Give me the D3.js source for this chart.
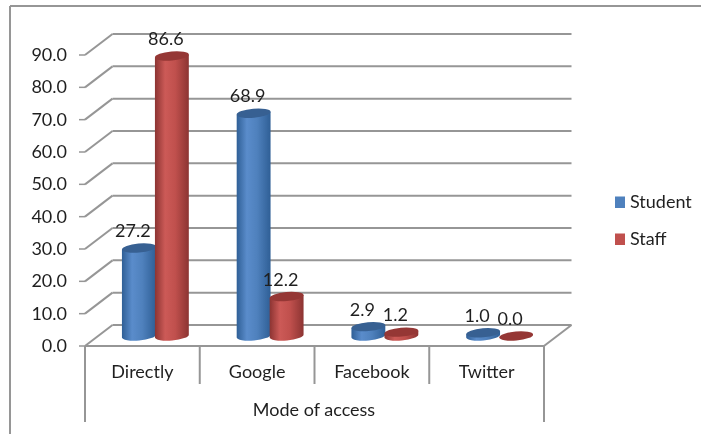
<!DOCTYPE html>
<html><head><meta charset="utf-8">
<script src="https://cdn.jsdelivr.net/npm/d3@7/dist/d3.min.js"></script>
<style>
html,body{margin:0;padding:0;background:#fff;width:701px;height:434px;overflow:hidden}
svg{display:block;filter:blur(0.35px)}
text{font-family:Lato,"Open Sans",sans-serif;fill:#1f1f1f}
</style></head><body><script>
const categories=["Directly","Google","Facebook","Twitter"];
const seriesNames=["Student","Staff"];
const student=[27.2,68.9,2.9,1.0];
const staff=[86.6,12.2,1.2,0.0];
const ticks=[0,10,20,30,40,50,60,70,80,90];
const colors={Student:["#2f5f96","#4f81bd","#5a8ccb","#376092"],Staff:["#8c3432","#c0504d","#cc5a57","#953735"]};

const W=701,H=434,dx=27.5,dy=-21,fs=18;
const svg=d3.select("body").append("svg").attr("width",W).attr("height",H);
const defs=svg.append("defs");
seriesNames.forEach(n=>{
 const g=defs.append("linearGradient").attr("id","g"+n);
 [[0,colors[n][0]],[.3,colors[n][2]],[.6,colors[n][1]],[1,colors[n][0]]].forEach(([o,c])=>g.append("stop").attr("offset",o).attr("stop-color",c));
});
const x=d3.scaleBand().domain(categories).range([85,544]);
const y=d3.scaleLinear().domain([0,90]).range([346,55]);
const grid="#969696";
const line=(a,b,c,d,w=2)=>svg.append("line").attr("x1",a).attr("y1",b).attr("x2",c).attr("y2",d).attr("stroke",grid).attr("stroke-width",w);
const label=(t,a,b,anchor)=>svg.append("text").attr("x",a).attr("y",b).attr("text-anchor",anchor).attr("font-size",fs).text(t);

// outer frame
line(10,6,W,6,2);line(10,6,10,H,2);
// back wall gridlines and side wall
ticks.forEach(t=>{
 line(x.range()[0]+dx,y(t)+dy,x.range()[1]+dx,y(t)+dy,2);
 line(x.range()[0],y(t),x.range()[0]+dx,y(t)+dy,2);
 line(x.range()[0]-6,y(t),x.range()[0],y(t),1.5);
 label(d3.format(".1f")(t),67,y(t)+6,"end");
});
line(x.range()[1],y(0),x.range()[1]+dx,y(0)+dy,2);
line(x.range()[0],y(0),x.range()[1],y(0),2);
// category separators
line(85,346,85,422,2);line(544,346,544,422,2);
categories.slice(1).forEach(c=>line(x(c),346,x(c),384,2));
categories.forEach(c=>label(c,x(c)+x.bandwidth()/2,378,"middle"));
label("Mode of access",314,416,"middle");

// cylinders
const rx=17,ry=4.5,rot=-5;
const base=-10,off=13;
const rad=rot*Math.PI/180, ex=rx*Math.cos(rad), ey=rx*Math.sin(rad);
function cyl(n,vals,shift){
 const c=colors[n];
 vals.forEach((v,i)=>{
  const cx=x(categories[i])+x.bandwidth()/2+off+shift;
  const yb=y(0)+base, yt=y(v)+base;
  const g=svg.append("g");
  if(v>0){
   g.append("path")
    .attr("d",`M${cx-ex},${yt-ey} L${cx-ex},${yb-ey} A${rx},${ry} ${rot} 0 0 ${cx+ex},${yb+ey} L${cx+ex},${yt+ey} Z`)
    .attr("fill",`url(#g${n})`);
  }
  g.append("ellipse").attr("cx",cx).attr("cy",yt).attr("rx",rx).attr("ry",ry)
   .attr("transform",`rotate(${rot} ${cx} ${yt})`).attr("fill",c[3]);
  label(d3.format(".1f")(v),cx-6,yt-11,"middle");
 });
}
cyl("Student",student,-16.5);
cyl("Staff",staff,16.5);

// legend
const legendY=d3.scalePoint().domain(seriesNames).range([208,245]);
seriesNames.forEach(n=>{
 svg.append("rect").attr("x",615).attr("y",legendY(n)-11.5).attr("width",10).attr("height",11.5).attr("fill",colors[n][1]);
 label(n,630,legendY(n),"start");
});
</script></body></html>
